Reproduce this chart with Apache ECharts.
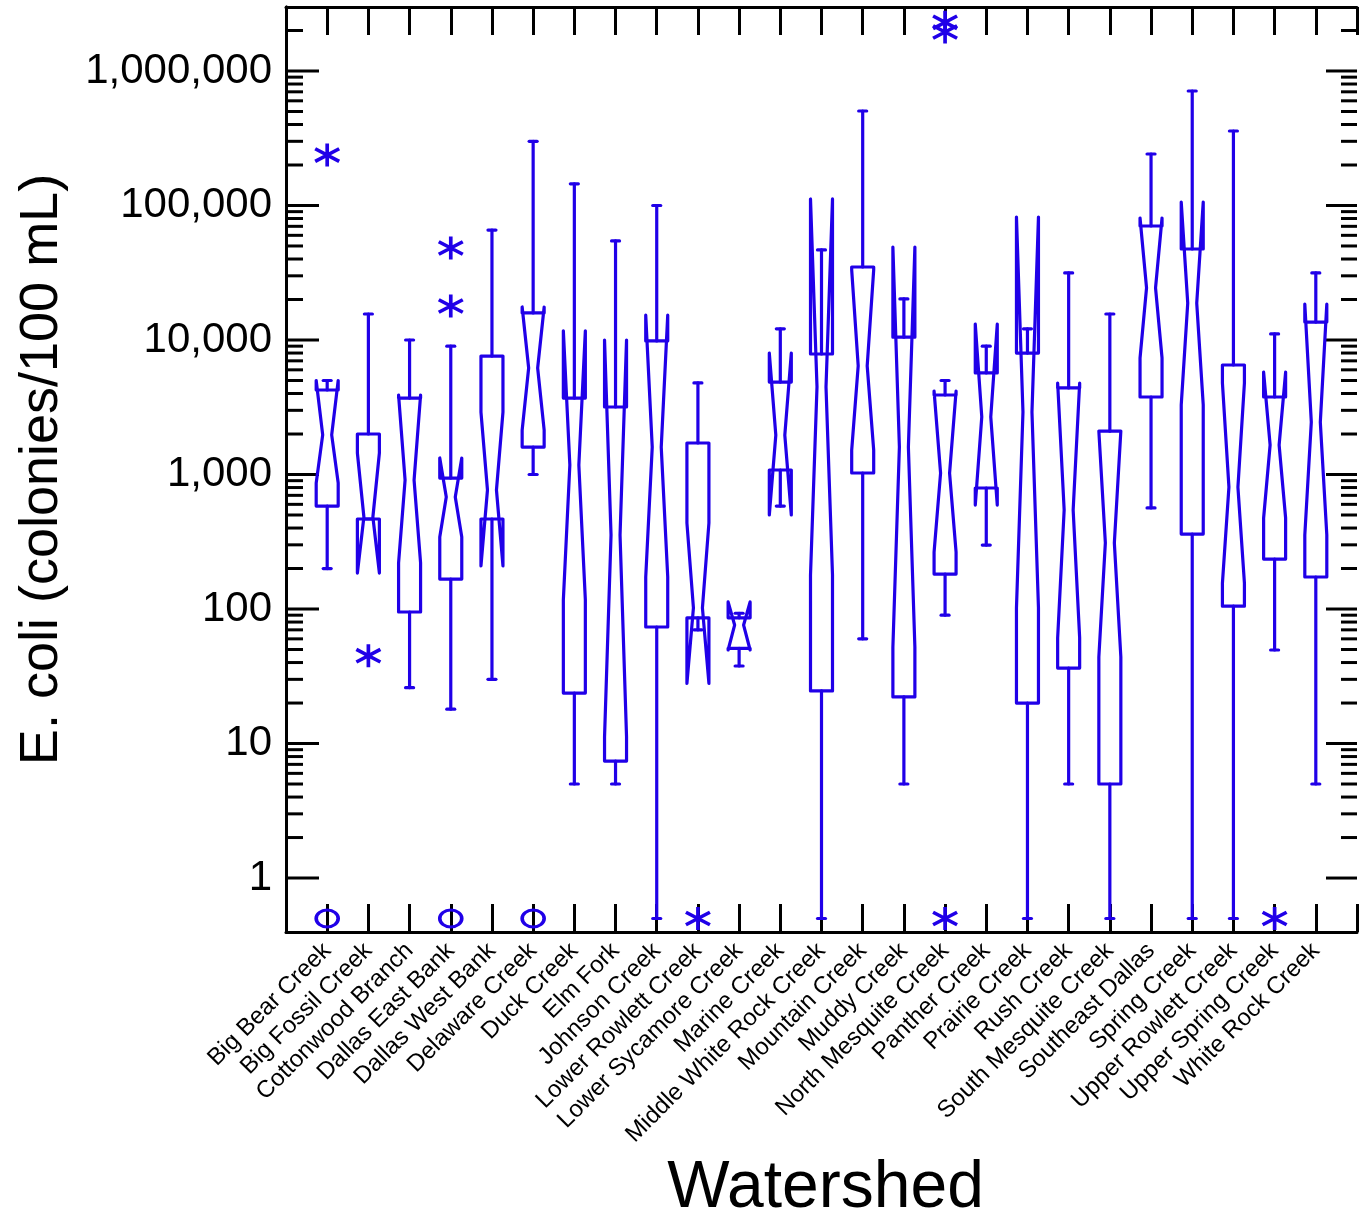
<!DOCTYPE html>
<html><head><meta charset="utf-8">
<script src="https://cdn.jsdelivr.net/npm/echarts@6/dist/echarts.min.js"></script>
<style>html,body{margin:0;padding:0;background:#fff}#c{width:1359px;height:1215px}</style>
</head><body><div id="c"></div>
<script>
// ---------- data (E. coli, colonies/100 mL) ----------
const watersheds = ['Big Bear Creek','Big Fossil Creek','Cottonwood Branch','Dallas East Bank','Dallas West Bank','Delaware Creek','Duck Creek','Elm Fork','Johnson Creek','Lower Rowlett Creek','Lower Sycamore Creek','Marine Creek','Middle White Rock Creek','Mountain Creek','Muddy Creek','North Mesquite Creek','Panther Creek','Prairie Creek','Rush Creek','South Mesquite Creek','Southeast Dallas','Spring Creek','Upper Rowlett Creek','Upper Spring Creek','White Rock Creek'];
const whiskerHigh = [5000, 15600, 10000, 9000, 65700, 300000, 145000, 54500, 100000, 4800, 93, 12100, 46700, 504000, 20200, 5000, 9000, 12100, 31500, 15600, 241500, 710000, 358000, 11100, 31500];
const q3          = [4250, 2000, 3700, 940, 7600, 15900, 3700, 3175, 9840, 1715, 86, 4870, 7870, 34900, 10500, 3900, 5690, 8000, 4400, 2100, 70400, 47500, 6520, 3770, 13600];
const median      = [1970, 483, 910, 680, 767, 6190, 1177, 355, 1600, 102, 76, 1966, 4480, 6410, 1600, 1026, 2677, 2915, 545, 310, 24400, 18800, 807, 1657, 2455];
const q1          = [583, 467, 95, 167, 467, 1600, 23.7, 7.4, 73.5, 86, 51, 1080, 24.6, 1026, 22.2, 182, 794, 20, 36.4, 5, 3770, 361, 105, 235, 173];
const whiskerLow  = [200, 467, 26, 18, 30, 1000, 5, 5, 0.5, 70, 37.7, 583, 0.5, 60, 5, 90, 299, 0.5, 5, 0.5, 564, 0.5, 0.5, 49.6, 5];
const notchHigh   = [5000, 1445, 3900, 1327, 2915, 17600, 11700, 10000, 15300, 436, 113, 8000, 111800, 33200, 49100, 4175, 13150, 82100, 4790, 2105, 80700, 106000, 4790, 5780, 18500];
const notchLow    = [865, 185, 220, 343, 209, 2140, 117, 11.2, 173, 28, 49.6, 500, 179, 1520, 52, 265, 593, 102, 61, 44, 7350, 3290, 156, 475, 355];
// outliers: [watershed number (1-based), value]; zeros plotted at 0.5
const starOutliers   = [[1, 237000], [2, 45], [4, 48300], [4, 17900], [10, 0.5], [16, 2300000], [16, 1950000], [16, 0.5], [24, 0.5]];
const circleOutliers = [[1, 0.5], [4, 0.5], [6, 0.5]];
// axis
const yMin = 0.397, yMax = 2.99e6;
const majorTickValues = [1, 10, 100, 1000, 10000, 100000, 1000000];
const minorMultipliers = [2, 3, 4, 5, 6, 7, 8, 9];

// ---------- chart ----------
const BLUE = '#2000e8';
const FONT = 'Liberation Sans, Arial, sans-serif';
const boxData = watersheds.map((n, i) => [i + 1, whiskerLow[i], q1[i], median[i], q3[i], whiskerHigh[i], notchLow[i], notchHigh[i]]);
const yTicks = [];
majorTickValues.forEach(d => {
  yTicks.push([0, d, 1]);
  minorMultipliers.forEach(m => { if (d * m < yMax) yTicks.push([0, d * m, 0]); });
});

function renderBox(params, api) {
  const x = api.value(0);
  const c = v => api.coord([x, v]);
  const pLo = c(api.value(1)), pQ1 = c(api.value(2)), pMed = c(api.value(3)), pQ3 = c(api.value(4)),
        pHi = c(api.value(5)), pNL = c(api.value(6)), pNH = c(api.value(7));
  const cx = pMed[0], hw = 11, nw = 4.5, cw = 4;
  const L = cx - hw, R = cx + hw;
  const style = { stroke: BLUE, lineWidth: 3.2, fill: 'none', lineJoin: 'round', lineCap: 'round' };
  return { type: 'group', children: [
    { type: 'polygon', shape: { points: [[L, pQ1[1]], [L, pNL[1]], [cx - nw, pMed[1]], [L, pNH[1]], [L, pQ3[1]],
        [R, pQ3[1]], [R, pNH[1]], [cx + nw, pMed[1]], [R, pNL[1]], [R, pQ1[1]]] }, style },
    { type: 'line', shape: { x1: cx, y1: pQ3[1], x2: cx, y2: pHi[1] }, style },
    { type: 'line', shape: { x1: cx - cw, y1: pHi[1], x2: cx + cw, y2: pHi[1] }, style },
    { type: 'line', shape: { x1: cx, y1: pQ1[1], x2: cx, y2: pLo[1] }, style },
    { type: 'line', shape: { x1: cx - cw, y1: pLo[1], x2: cx + cw, y2: pLo[1] }, style }
  ]};
}
function renderYTicks(params, api) {
  const p = api.coord([0, api.value(1)]);
  const major = api.value(2) === 1;
  const cs = params.coordSys;
  const st = { stroke: '#000', lineWidth: 3 };
  const lenL = major ? 33 : 17, lenR = major ? 31 : 16;
  return { type: 'group', children: [
    { type: 'line', shape: { x1: cs.x, y1: p[1], x2: cs.x + lenL, y2: p[1] }, style: st },
    { type: 'line', shape: { x1: cs.x + cs.width - lenR, y1: p[1], x2: cs.x + cs.width, y2: p[1] }, style: st }
  ]};
}
function fmtY(v) {
  const l = Math.log10(v);
  if (v < 0.99 || Math.abs(l - Math.round(l)) > 1e-6) return '';
  return String(Math.round(v)).replace(/\B(?=(\d{3})+(?!\d))/g, ',');
}
const axisLine = { show: true, lineStyle: { color: '#000', width: 3 } };
const chart = echarts.init(document.getElementById('c'), null, { renderer: 'canvas' });
chart.setOption({
  animation: false,
  backgroundColor: '#fff',
  grid: { left: 286, right: 2, top: 7, bottom: 283, containLabel: false, outerBoundsMode: 'none' },
  xAxis: [
    { type: 'value', min: 0, max: 26, interval: 1, position: 'bottom',
      axisLine, splitLine: { show: false },
      axisTick: { inside: true, length: 28, lineStyle: { color: '#000', width: 3 } },
      axisLabel: { rotate: 45, margin: 15, fontSize: 24, fontFamily: FONT, color: '#000',
        formatter: v => (v >= 1 && v <= 25 && Number.isInteger(v)) ? watersheds[v - 1] : '' },
      name: 'Watershed', nameLocation: 'middle', nameGap: 224,
      nameTextStyle: { fontSize: 66, fontFamily: FONT, color: '#000', padding: [0, 0, 0, 8] } },
    { type: 'value', min: 0, max: 26, interval: 1, position: 'top',
      axisLine, splitLine: { show: false }, axisLabel: { show: false },
      axisTick: { inside: true, length: 28, lineStyle: { color: '#000', width: 3 } } }
  ],
  yAxis: [
    { type: 'log', logBase: 10, min: yMin, max: yMax, position: 'left',
      axisLine, splitLine: { show: false }, axisTick: { show: false }, minorTick: { show: false },
      axisLabel: { margin: 14, fontSize: 42, fontFamily: FONT, color: '#000', formatter: fmtY },
      name: 'E. coli (colonies/100 mL)', nameLocation: 'middle', nameGap: 217, nameRotate: 90,
      nameTextStyle: { fontSize: 54, fontFamily: FONT, color: '#000' } },
    { type: 'log', logBase: 10, min: yMin, max: yMax, position: 'right',
      axisLine, splitLine: { show: false }, axisLabel: { show: false },
      axisTick: { show: false }, minorTick: { show: false } }
  ],
  series: [
    { type: 'custom', name: 'yticks', xAxisIndex: 0, yAxisIndex: 0, renderItem: renderYTicks,
      data: yTicks, encode: { x: 0, y: 1 }, silent: true, z: 1 },
    { type: 'custom', name: 'boxes', xAxisIndex: 0, yAxisIndex: 0, renderItem: renderBox,
      data: boxData, encode: { x: 0, y: [1, 2, 3, 4, 5, 6, 7] }, z: 3 },
    { type: 'scatter', name: 'outliers', xAxisIndex: 0, yAxisIndex: 0, data: starOutliers,
      symbol: 'path://M12,0L12,22M0,5L24,17M0,17L24,5', symbolSize: [24, 23],
      itemStyle: { color: 'rgba(0,0,0,0)', borderColor: BLUE, borderWidth: 3.6, opacity: 1 }, z: 4 },
    { type: 'scatter', name: 'far outliers', xAxisIndex: 0, yAxisIndex: 0, data: circleOutliers,
      symbol: 'path://M0,8A10,8,0,1,1,20,8A10,8,0,1,1,0,8Z', symbolSize: [22, 17],
      itemStyle: { color: 'rgba(0,0,0,0)', borderColor: BLUE, borderWidth: 3.2, opacity: 1 }, z: 4 }
  ]
});
</script></body></html>
